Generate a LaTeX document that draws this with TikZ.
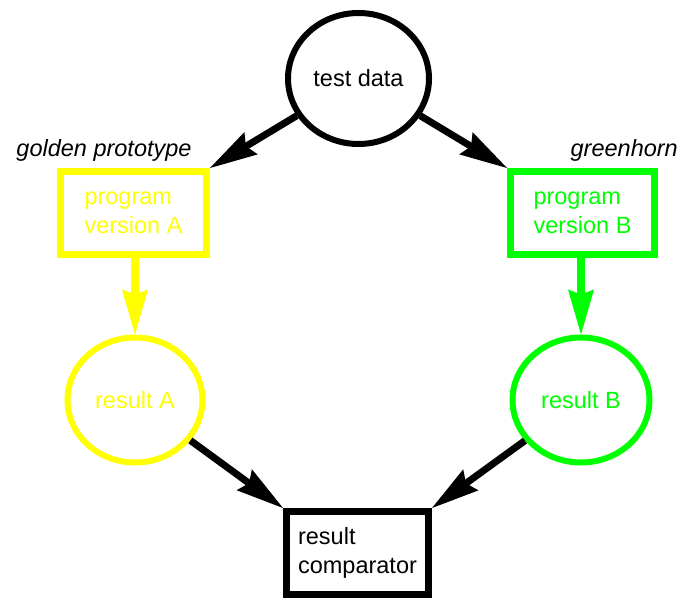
\documentclass[tikz,border=0pt]{standalone}
\usepackage{fontspec}
\setmainfont{Liberation Sans}
\usetikzlibrary{arrows.meta,shapes.geometric}
\definecolor{yel}{RGB}{255,255,0}
\definecolor{grn}{RGB}{0,255,0}
\tikzset{
  every node/.style={font=\fontsize{23.5}{28.5}\selectfont, inner sep=0pt},
  oval/.style={ellipse, draw, line width=6pt, align=center},
  boxn/.style={rectangle, draw, line width=7pt, align=left},
  bigarrow/.style={line width=7pt, -{Stealth[length=48pt 0,width=26pt 0,inset=6pt 0,line width=0pt]}},
  smallarrow/.style={line width=8pt, -{Stealth[length=45pt 0,width=26pt 0,inset=5pt 0,line width=0pt]}},
  note/.style={font=\fontsize{23.5}{28.5}\selectfont\itshape}
}
\begin{document}
\begin{tikzpicture}[x=1pt,y=-1pt]
\useasboundingbox (0,0) rectangle (679,601);
\node[oval, minimum width=141pt, minimum height=131pt] (td) at (358.5,78.5) {test data};
\node[boxn, draw=yel, text=yel, minimum width=146pt, minimum height=83pt] (pA) at (133.5,213) {program\\version A};
\node[boxn, draw=grn, text=grn, minimum width=144pt, minimum height=83pt] (pB) at (582.5,213) {program\\version B};
\node[oval, draw=yel, text=yel, minimum width=135pt, minimum height=125pt] (rA) at (135,400) {result A};
\node[oval, draw=grn, text=grn, minimum width=137pt, minimum height=125pt] (rB) at (581,400) {result B};
\node[boxn, minimum width=142pt, minimum height=83pt] (rc) at (357.5,553) {result\\comparator};
\node[note] (gp) at (104,150) {golden prototype};
\node[note, anchor=east] (gh) at (678,150) {greenhorn};
\draw[bigarrow] (td) -- (pA.north east);
\draw[bigarrow] (td) -- (pB.north west);
\draw[smallarrow, draw=yel] (pA.south -| rA.north) -- (rA.north);
\draw[smallarrow, draw=grn] (pB.south -| rB.north) -- (rB.north);
\draw[bigarrow] (rA) -- (rc.north west);
\draw[bigarrow] (rB) -- (rc.north east);
\end{tikzpicture}
\end{document}
